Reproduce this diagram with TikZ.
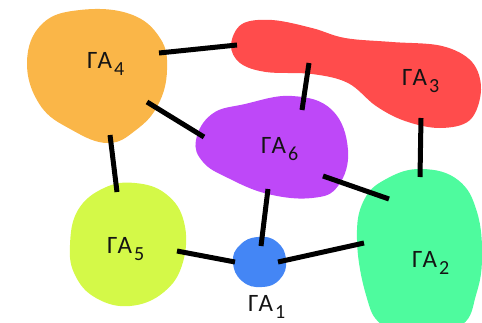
\documentclass[tikz,border=0pt]{standalone}
\usepackage{fontspec}
\setmainfont{Carlito}
\definecolor{cOrange}{RGB}{250,182,72}
\definecolor{cRed}{RGB}{255,76,76}
\definecolor{cPurple}{RGB}{190,72,248}
\definecolor{cGreen}{RGB}{78,251,158}
\definecolor{cYellow}{RGB}{212,249,72}
\definecolor{cBlue}{RGB}{68,134,245}
\definecolor{cText}{RGB}{20,20,20}
\newcommand{\galab}[1]{\fontsize{25}{25}\selectfont ΓA\kern2pt\raisebox{-7pt}{\fontsize{20}{20}\selectfont #1}}
\tikzset{
  blob/.style={draw=none},
  link/.style={line width=5pt, black},
  lab/.style={anchor=base west, inner sep=0pt, text=cText}
}
\begin{document}
\begin{tikzpicture}[x=1pt,y=-1pt]
\useasboundingbox (0,0) rectangle (482,322);
\clip (0,0) rectangle (482,322);
% blobs
\fill[blob,cOrange] plot[smooth cycle, tension=0.7] coordinates {(27,62) (42,24) (80,10) (130,14) (160,38) (167,70) (158,105) (136,130) (108,143) (72,130) (40,105)};
\fill[blob,cRed] plot[smooth cycle, tension=0.6] coordinates {(231,45) (242,24) (272,20) (312,28) (345,38) (392,42) (442,46) (472,62) (481,90) (470,120) (440,128) (405,121) (376,106) (348,83) (312,74) (266,72) (240,63)};
\fill[blob,cPurple] plot[smooth cycle, tension=0.7] coordinates {(196,140) (212,114) (245,104) (292,96) (332,110) (348,150) (338,186) (312,198) (268,194) (228,178) (203,162)};
\fill[blob,cGreen] plot[smooth cycle, tension=0.7] coordinates {(357,240) (364,200) (388,178) (422,169) (458,180) (477,212) (482,258) (476,295) (462,325) (420,340) (382,325) (366,295)};
\fill[blob,cYellow] plot[smooth cycle, tension=0.7] coordinates {(70,245) (78,210) (104,188) (135,183) (166,194) (184,222) (183,262) (164,292) (130,306) (96,298) (75,275)};
\fill[blob,cBlue] plot[smooth cycle, tension=0.8] coordinates {(233,262) (240,245) (258,237) (277,242) (286,260) (280,279) (262,287) (242,281)};
% labels
\node[lab] (g4) at (87,68) {\galab{4}};
\node[lab] (g3) at (402,85) {\galab{3}};
\node[lab] (g6) at (261,153) {\galab{6}};
\node[lab] (g2) at (412,267) {\galab{2}};
\node[lab] (g5) at (107,253) {\galab{5}};
\node[lab] (g1) at (248,311) {\galab{1}};
% connector ends
\coordinate (p43a) at (159,53);  \coordinate (p43b) at (237,45);
\coordinate (p46a) at (147,102); \coordinate (p46b) at (204,137);
\coordinate (p45a) at (110,135); \coordinate (p45b) at (117,192);
\coordinate (p36a) at (309,63);  \coordinate (p36b) at (302,110);
\coordinate (p32a) at (421,118); \coordinate (p32b) at (420,177);
\coordinate (p62a) at (323,176); \coordinate (p62b) at (389,199);
\coordinate (p61a) at (268,189); \coordinate (p61b) at (261,246);
\coordinate (p51a) at (177,251); \coordinate (p51b) at (235,262);
\coordinate (p12a) at (278,262); \coordinate (p12b) at (364,243);
\draw[link] (p43a) -- (p43b);
\draw[link] (p46a) -- (p46b);
\draw[link] (p45a) -- (p45b);
\draw[link] (p36a) -- (p36b);
\draw[link] (p32a) -- (p32b);
\draw[link] (p62a) -- (p62b);
\draw[link] (p61a) -- (p61b);
\draw[link] (p51a) -- (p51b);
\draw[link] (p12a) -- (p12b);
\end{tikzpicture}
\end{document}
